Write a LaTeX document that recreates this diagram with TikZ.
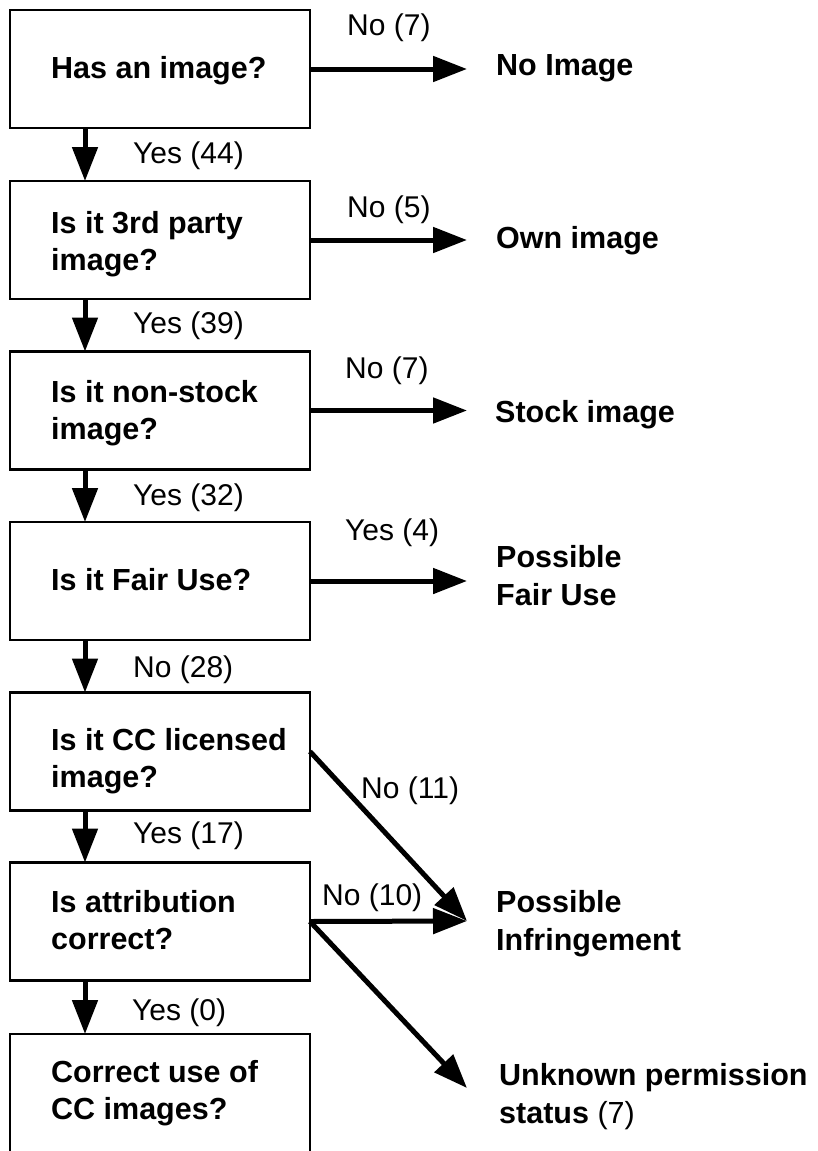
\documentclass[tikz,border=0pt]{standalone}
\usepackage{fontspec}
\setmainfont{Liberation Sans}
\usetikzlibrary{arrows.meta}
\begin{document}
\begin{tikzpicture}[x=1pt,y=-1pt,
  qbox/.style={draw=black,line width=2.5pt,minimum width=300pt,minimum height=118pt,inner sep=0pt,outer sep=0pt},
  qtext/.style={anchor=base west,inner sep=0pt,align=left,font=\fontsize{30.5}{37}\selectfont\bfseries},
  rtext/.style={anchor=base west,inner sep=0pt,align=left,font=\fontsize{30.5}{37.5}\selectfont\bfseries},
  lbl/.style={anchor=base west,inner sep=0pt,font=\fontsize{30}{36}\selectfont},
  arr/.style={line width=5pt,-{Triangle[length=34pt,width=25pt]}}]
\useasboundingbox (0,0) rectangle (817,1151);
% boxes
\node[qbox] (b1) at (160,69) {};
\node[qbox] (b2) at (160,240) {};
\node[qbox] (b3) at (160,410.5) {};
\node[qbox] (b4) at (160,581) {};
\node[qbox] (b5) at (160,751.5) {};
\node[qbox] (b6) at (160,921.5) {};
\node[qbox,minimum height=124pt] (b7) at (160,1096) {};
% box texts (base = last line)
\node[qtext] (q1) at (51,78) {Has an image?};
\node[qtext] (q2) at (51,270) {Is it 3rd party\\image?};
\node[qtext] (q3) at (51,439) {Is it non-stock\\image?};
\node[qtext] (q4) at (51,590) {Is it Fair Use?};
\node[qtext] (q5) at (51,787) {Is it CC licensed\\image?};
\node[qtext] (q6) at (51,949) {Is attribution\\correct?};
\node[qtext] (q7) at (51,1119) {Correct use of\\CC images?};
% outcome texts
\node[rtext] (r1) at (496,75) {No Image};
\node[rtext] (r2) at (496,248) {Own image};
\node[rtext] (r3) at (495,422) {Stock image};
\node[rtext] (r4) at (496,605) {Possible\\Fair Use};
\node[rtext] (r5) at (496,950) {Possible\\Infringement};
\node[rtext] (r6) at (499,1123) {Unknown permission\\status {\mdseries(7)}};
% tip coordinates
\coordinate (tipx) at (467,0);
\coordinate (pinf) at (467,921);
\coordinate (punk) at (467,1088);
% vertical arrows
\draw[arr] ([xshift=75pt]b1.south west) -- ([xshift=75pt]b2.north west);
\draw[arr] ([xshift=75pt]b2.south west) -- ([xshift=75pt]b3.north west);
\draw[arr] ([xshift=75pt]b3.south west) -- ([xshift=75pt]b4.north west);
\draw[arr] ([xshift=75pt]b4.south west) -- ([xshift=75pt]b5.north west);
\draw[arr] ([xshift=75pt]b5.south west) -- ([xshift=75pt]b6.north west);
\draw[arr] ([xshift=75pt]b6.south west) -- ([xshift=75pt]b7.north west);
% horizontal arrows
\draw[arr] (b1.east) -- (b1.east -| tipx);
\draw[arr] (b2.east) -- (b2.east -| tipx);
\draw[arr] (b3.east) -- (b3.east -| tipx);
\draw[arr] (b4.east) -- (b4.east -| tipx);
\draw[arr] (b5.east) -- (pinf);
\draw[arr] (b6.east) -- (pinf);
\draw[arr] (b6.east) -- (punk);
% labels
\node[lbl] (l1) at (133,163) {Yes (44)};
\node[lbl] (l2) at (133,333) {Yes (39)};
\node[lbl] (l3) at (133,505) {Yes (32)};
\node[lbl] (l4) at (133,677) {No (28)};
\node[lbl] (l5) at (133,843) {Yes (17)};
\node[lbl] (l6) at (132,1020) {Yes (0)};
\node[lbl] (h1) at (347,35) {No (7)};
\node[lbl] (h2) at (347,217) {No (5)};
\node[lbl] (h3) at (345,378) {No (7)};
\node[lbl] (h4) at (345,540) {Yes (4)};
\node[lbl] (h5) at (361,798) {No (11)};
\node[lbl] (h6) at (322,905) {No (10)};
\end{tikzpicture}
\end{document}
